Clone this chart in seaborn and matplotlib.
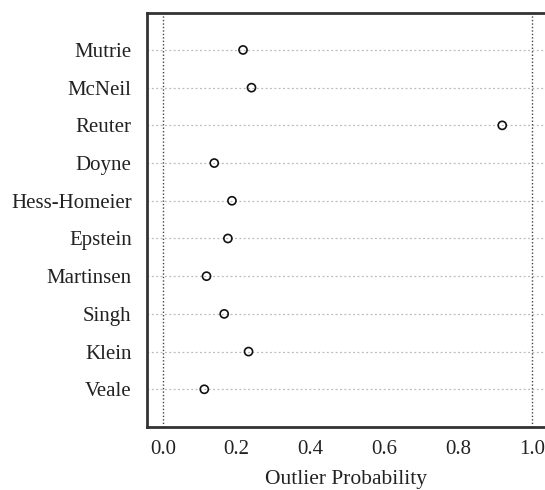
import matplotlib
matplotlib.use("Agg")
import matplotlib.pyplot as plt
import seaborn as sns
import pandas as pd

studies = ["Mutrie", "McNeil", "Reuter", "Doyne", "Hess-Homeier",
           "Epstein", "Martinsen", "Singh", "Klein", "Veale"]
outlier_prob = [0.217, 0.240, 0.920, 0.139, 0.187,
                0.176, 0.118, 0.166, 0.232, 0.112]
x_ticks = [0.0, 0.2, 0.4, 0.6, 0.8, 1.0]
x_tick_labels = ["0.0", "0.2", "0.4", "0.6", "0.8", "1.0"]

sns.set_theme(style="white")
plt.rcParams['font.family'] = ['Liberation Serif', 'DejaVu Serif']

df = pd.DataFrame({"study": studies, "prob": outlier_prob})

fig = plt.figure(figsize=(5.45, 4.9), dpi=100)
ax = fig.add_axes([147/545, 1 - 427/490, 1 - 147/545, (427 - 13)/490])

for i in range(len(studies)):
    ax.axhline(i, color="#bbbbbb", lw=0.9, ls=(0, (1.5, 2)), zorder=1)
for xv in [0.0, 1.0]:
    ax.axvline(xv, color="#444444", lw=1.0, ls=(0, (1, 1.5)), zorder=1)

sns.scatterplot(data=df, x="prob", y="study", ax=ax, marker="o", s=34,
                facecolors="none", edgecolor="#111111", linewidth=1.2,
                zorder=3, legend=False)

ax.set_xlim(-0.0434, 1.036)
ax.set_ylim(10.0, -0.98)
ax.set_xticks(x_ticks)
ax.set_xticklabels(x_tick_labels)
ax.set_yticks(range(len(studies)))
ax.set_yticklabels(studies)
ax.set_xlabel("Outlier Probability", fontsize=15.5, labelpad=8.5, color="#222222")
ax.set_ylabel("")
ax.tick_params(axis="x", direction="in", length=4, width=1.5, color="#222222",
               labelsize=15, pad=9, labelcolor="#222222")
ax.tick_params(axis="y", length=0, labelsize=15, pad=11, labelcolor="#222222")
for side in ["left", "top", "bottom"]:
    ax.spines[side].set_color("#333333")
    ax.spines[side].set_linewidth(2.0)
ax.spines["right"].set_visible(False)

fig.savefig("out.png", dpi=100)
